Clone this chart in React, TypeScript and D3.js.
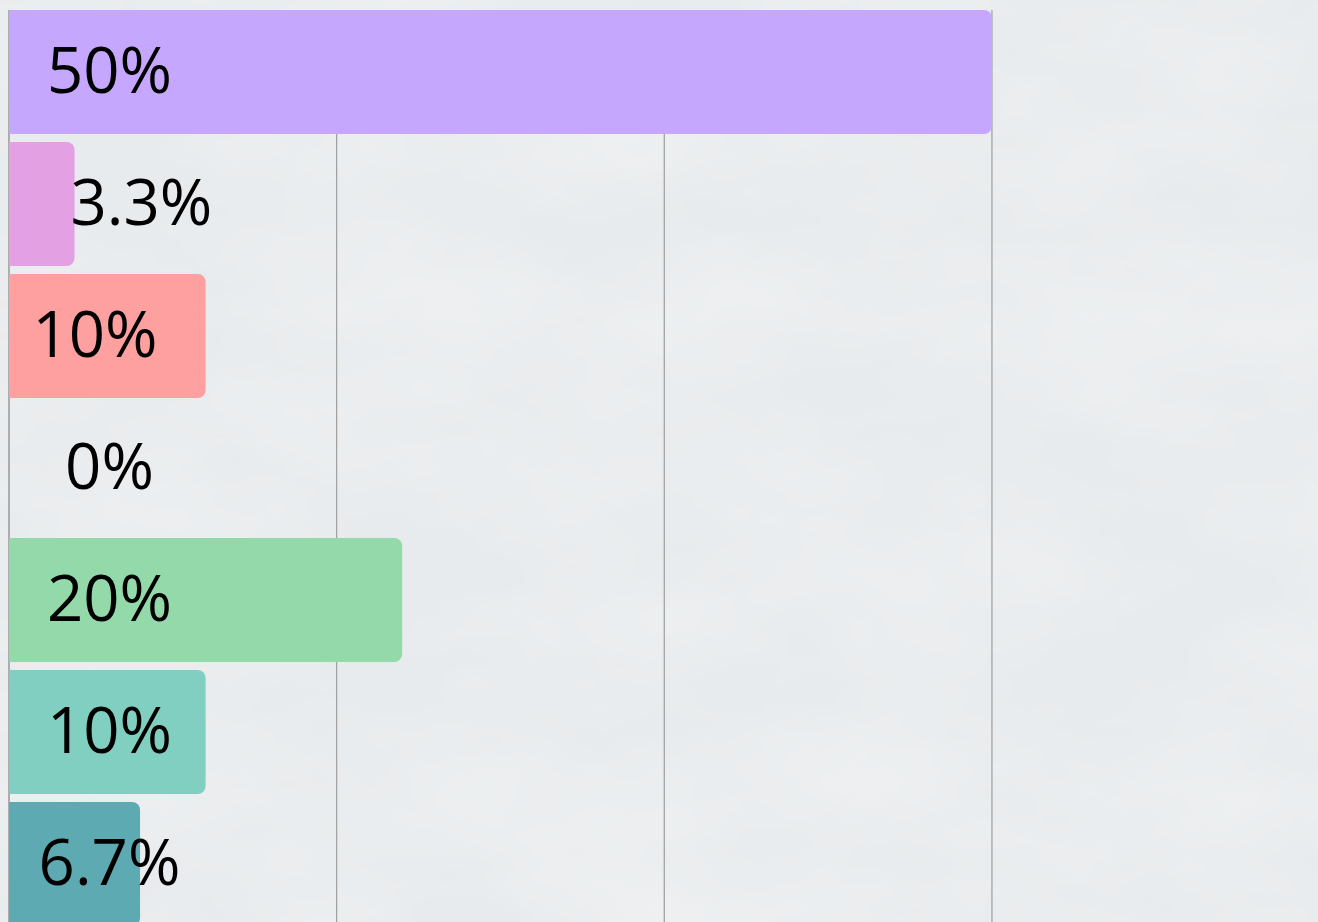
import React from "react";
import * as d3 from "d3";

const categories = ["Option A", "Option B", "Option C", "Option D", "Option E", "Option F", "Option G"];
const counts = [15, 1, 3, 0, 6, 3, 2];
const percentLabels = ["50%", "3.3%", "10%", "0%", "20%", "10%", "6.7%"];
const colors = ["#c5a8fe", "#e3a0e3", "#fea0a0", "#c8c8c8", "#94d9aa", "#80cfc0", "#5eaab3"];
const gridTicks = [0, 5, 10, 15];

const W = 1318;
const H = 922;

export default function App() {
  const x = d3.scaleLinear().domain([0, 20]).range([9, 9 + 65.53 * 20]);
  const p = 8 / 132;
  const y = d3
    .scaleBand<string>()
    .domain(categories)
    .range([6, 6 + 132 * categories.length])
    .paddingInner(p)
    .paddingOuter(p / 2);
  const bw = y.bandwidth();
  const r = 8;

  const barPath = (v: number, cat: string) => {
    const x0 = x(0);
    const x1 = x(v);
    const y0 = y(cat)!;
    const y1 = y0 + bw;
    const rr = Math.min(r, (x1 - x0) / 2);
    const path = d3.path();
    path.moveTo(x0, y0);
    path.lineTo(x1 - rr, y0);
    path.arcTo(x1, y0, x1, y0 + rr, rr);
    path.lineTo(x1, y1 - rr);
    path.arcTo(x1, y1, x1 - rr, y1, rr);
    path.lineTo(x0, y1);
    path.closePath();
    return path.toString();
  };

  const labelX = (i: number) => {
    if (i === 1) return { x: x(counts[i]) - 4, anchor: "start" };
    if (i === 2) return { x: 95, anchor: "middle" };
    return { x: 109.5, anchor: "middle" };
  };

  return (
    <svg
      width={W}
      height={H}
      style={{ position: "fixed", left: 0, top: 0, display: "block" }}
      fontFamily="'Open Sans', sans-serif"
    >
      <defs>
        <filter id="marble" x="0" y="0" width="100%" height="100%">
          <feTurbulence type="fractalNoise" baseFrequency="0.9" numOctaves={3} seed={4} result="noise" />
          <feColorMatrix
            in="noise"
            type="matrix"
            values="0 0 0 0 0.82  0 0 0 0 0.83  0 0 0 0 0.84  0 0 0 0.18 0"
          />
        </filter>
        <filter id="veins" x="0" y="0" width="100%" height="100%">
          <feTurbulence type="fractalNoise" baseFrequency="0.004 0.008" numOctaves={4} seed={11} result="n" />
          <feColorMatrix
            in="n"
            type="matrix"
            values="0 0 0 0 0.97  0 0 0 0 0.97  0 0 0 0 0.98  0 0 0 0.5 -0.15"
          />
        </filter>
      </defs>
      <rect width={W} height={H} fill="#e8ebed" />
      <rect width={W} height={H} filter="url(#veins)" />
      <rect width={W} height={H} filter="url(#marble)" />

      {gridTicks.map((t) => (
        <line
          key={t}
          x1={x(t)}
          x2={x(t)}
          y1={10}
          y2={H}
          stroke={t === 0 ? "#8a8a8a" : "#a3a3a3"}
          strokeWidth={1.3}
        />
      ))}

      {categories.map((c, i) =>
        counts[i] > 0 ? <path key={c} d={barPath(counts[i], c)} fill={colors[i]} /> : null
      )}

      {categories.map((c, i) => {
        const l = labelX(i);
        return (
          <text
            key={"t" + c}
            x={l.x}
            y={y(c)! + bw / 2 + 21}
            textAnchor={l.anchor as any}
            fontSize={63.5}
            fill="#000"
          >
            {percentLabels[i]}
          </text>
        );
      })}
    </svg>
  );
}
